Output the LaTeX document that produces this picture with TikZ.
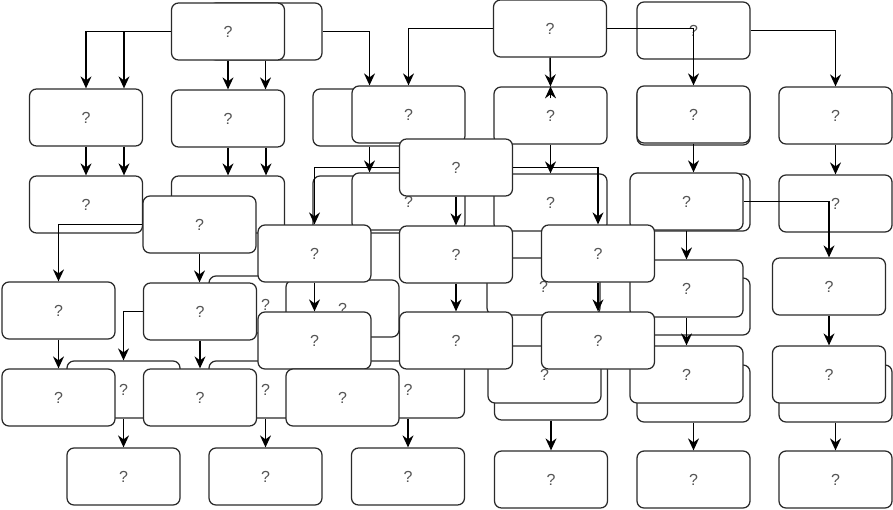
\documentclass[tikz,border=0pt]{standalone}
\usepackage{fontspec}
\setmainfont{Liberation Sans}
\usetikzlibrary{arrows.meta}
\definecolor{boxline}{HTML}{2A2A2A}
\definecolor{qgray}{HTML}{555555}
\begin{document}
\begin{tikzpicture}[x=1pt,y=-1pt,
  box/.style={draw=boxline, fill=white, rounded corners=7pt, minimum width=113pt, minimum height=57pt, inner sep=0pt, line width=1.25pt, text=qgray, font=\fontsize{16}{16}\selectfont},
  arr/.style={draw=black, line width=1.5pt, -{Stealth[length=12pt,width=11pt,inset=4pt]}}]
\useasboundingbox (0,0) rectangle (893,509);
% back layer
\node[box] (b0) at (265.5,31.5) {};
\node[box] (r1bk) at (369.5,117.5) {};
\node[box] (r1e2) at (693.5,116.5) {};
\node[box] (r2b1) at (228,204.5) {};
\node[box] (r2bk) at (369.5,204.5) {};
\node[box] (r2b2) at (408.5,201.5) {?};
\node[box] (r2b3) at (550.5,202.5) {?};
\node[box] (r2e2) at (693.5,202.5) {};
\node[box] (r35b) at (543.5,286.5) {?};
\node[box] (r35e2) at (693.5,306.5) {};
\node[box] (r4bk1) at (265.5,304.5) {?};
\node[box] (r4bk2) at (342.5,308.5) {?};
\node[box] (r6b1) at (123.5,389.5) {?};
\node[box] (r6b2) at (265.5,389.5) {?};
\node[box] (r6b3) at (408,389.5) {?};
\node[box] (r6d2) at (551,391.5) {};
\node[box] (r6e2) at (693.5,393.5) {};
\node[box] (r6f2) at (835.5,393.5) {};
% front layer
\node[box] (A) at (228,31.5) {?};
\node[box] (C) at (550,28.5) {?};
\node[box] (D) at (693.5,30.5) {?};
\node[box] (r1a) at (86,117.5) {?};
\node[box] (r1b) at (228,118.5) {?};
\node[box] (r1c) at (408.5,114.5) {?};
\node[box] (r1d) at (550.5,115.5) {?};
\node[box] (r1e) at (693.5,114.5) {?};
\node[box] (r1f) at (835.5,115.5) {?};
\node[box] (r2a) at (86,204.5) {?};
\node[box] (r2e) at (686.5,201.5) {?};
\node[box] (r2f) at (835.5,203.5) {?};
\node[box] (Q) at (199.5,224.5) {?};
\node[box] (P) at (456,167.5) {?};
\node[box] (r35e) at (686.5,288.5) {?};
\node[box] (r35f) at (829,286.5) {?};
\node[box] (r3a) at (314.5,253.5) {?};
\node[box] (r3b) at (456,254.5) {?};
\node[box] (r3c) at (598,253.5) {?};
\node[box] (r4a) at (58.5,310.5) {?};
\node[box] (r4b) at (200,311.5) {?};
\node[box] (r6d) at (544.5,374.5) {?};
\node[box] (r6e) at (686.5,374.5) {?};
\node[box] (r6f) at (829,374.5) {?};
\node[box] (r5a) at (314.5,340.5) {?};
\node[box] (r5b) at (456,340.5) {?};
\node[box] (r5c) at (598,340.5) {?};
\node[box] (r6a) at (58.5,397.5) {?};
\node[box] (r6b) at (200,397.5) {?};
\node[box] (r6c) at (342.5,397.5) {?};
\node[box] (r7a) at (123.5,476.5) {?};
\node[box] (r7b) at (265.5,476.5) {?};
\node[box] (r7c) at (408,476.5) {?};
\node[box] (r7d) at (551,479.5) {?};
\node[box] (r7e) at (693.5,479.5) {?};
\node[box] (r7f) at (835.5,479.5) {?};
% connectors
\draw[arr] (A.west) -| (r1a.north);
\draw[arr] (A.west) -| ([xshift=38pt]r1a.north);
\draw[arr] (A.south) -- (r1b.north);
\draw[arr] (b0.south) -- (b0.south |- r1b.north);
\draw[arr] (b0.east) -| (r1bk.north |- r1c.north);
\draw[arr] (C.west) -| (r1c.north);
\draw[arr] (C.south) -- (r1d.north);
\draw[arr] ([yshift=-12pt]r1d.north) -- (r1d.north);
\draw[arr] (C.east) -| (r1e.north);
\draw[arr] (D.east) -| (r1f.north);
\draw[arr] (r1a.south) -- (r2a.north);
\draw[arr] ([xshift=38pt]r1a.south) -- ([xshift=38pt]r2a.north);
\draw[arr] (r1b.south) -- (r2b1.north);
\draw[arr] ([xshift=38pt]r1b.south) -- ([xshift=38pt]r2b1.north);
\draw[arr] (r1bk.south) -- (r1bk.south |- r2b2.north);
\draw[arr] (r1d.south) -- (r2b3.north);
\draw[arr] (r1e.south) -- (r1e.south |- r2e.north);
\draw[arr] (r1f.south) -- (r2f.north);
\draw[arr] (P.west) -| (r3a.north);
\draw[arr] (P.south) -- (r3b.north);
\draw[arr] (P.east) -| (r3c.north);
\draw[arr] (Q.west) -| (r4a.north);
\draw[arr] (Q.south) -- (Q.south |- r4b.north);
\draw[arr] (r4a.south) -- (r6a.north);
\draw[arr] (r4b.south) -- (r6b.north);
\draw[arr] (r4b.west) -| (r6b1.north);
\draw[arr] (r3a.south) -- (r5a.north);
\draw[arr] (r3b.south) -- (r5b.north);
\draw[arr] (r3c.south) -- (r5c.north);
\draw[arr] (r2e.east) -| (r35f.north);
\draw[arr] (r2e.south) -- (r35e.north);
\draw[arr] (r35e.south) -- (r6e.north);
\draw[arr] (r35f.south) -- (r6f.north);
\draw[arr] (r6b1.south) -- (r7a.north);
\draw[arr] (r6b2.south) -- (r7b.north);
\draw[arr] (r6b3.south) -- (r7c.north);
\draw[arr] (r6d2.south) -- (r7d.north);
\draw[arr] (r6e2.south) -- (r7e.north);
\draw[arr] (r6f2.south) -- (r7f.north);
\end{tikzpicture}
\end{document}
